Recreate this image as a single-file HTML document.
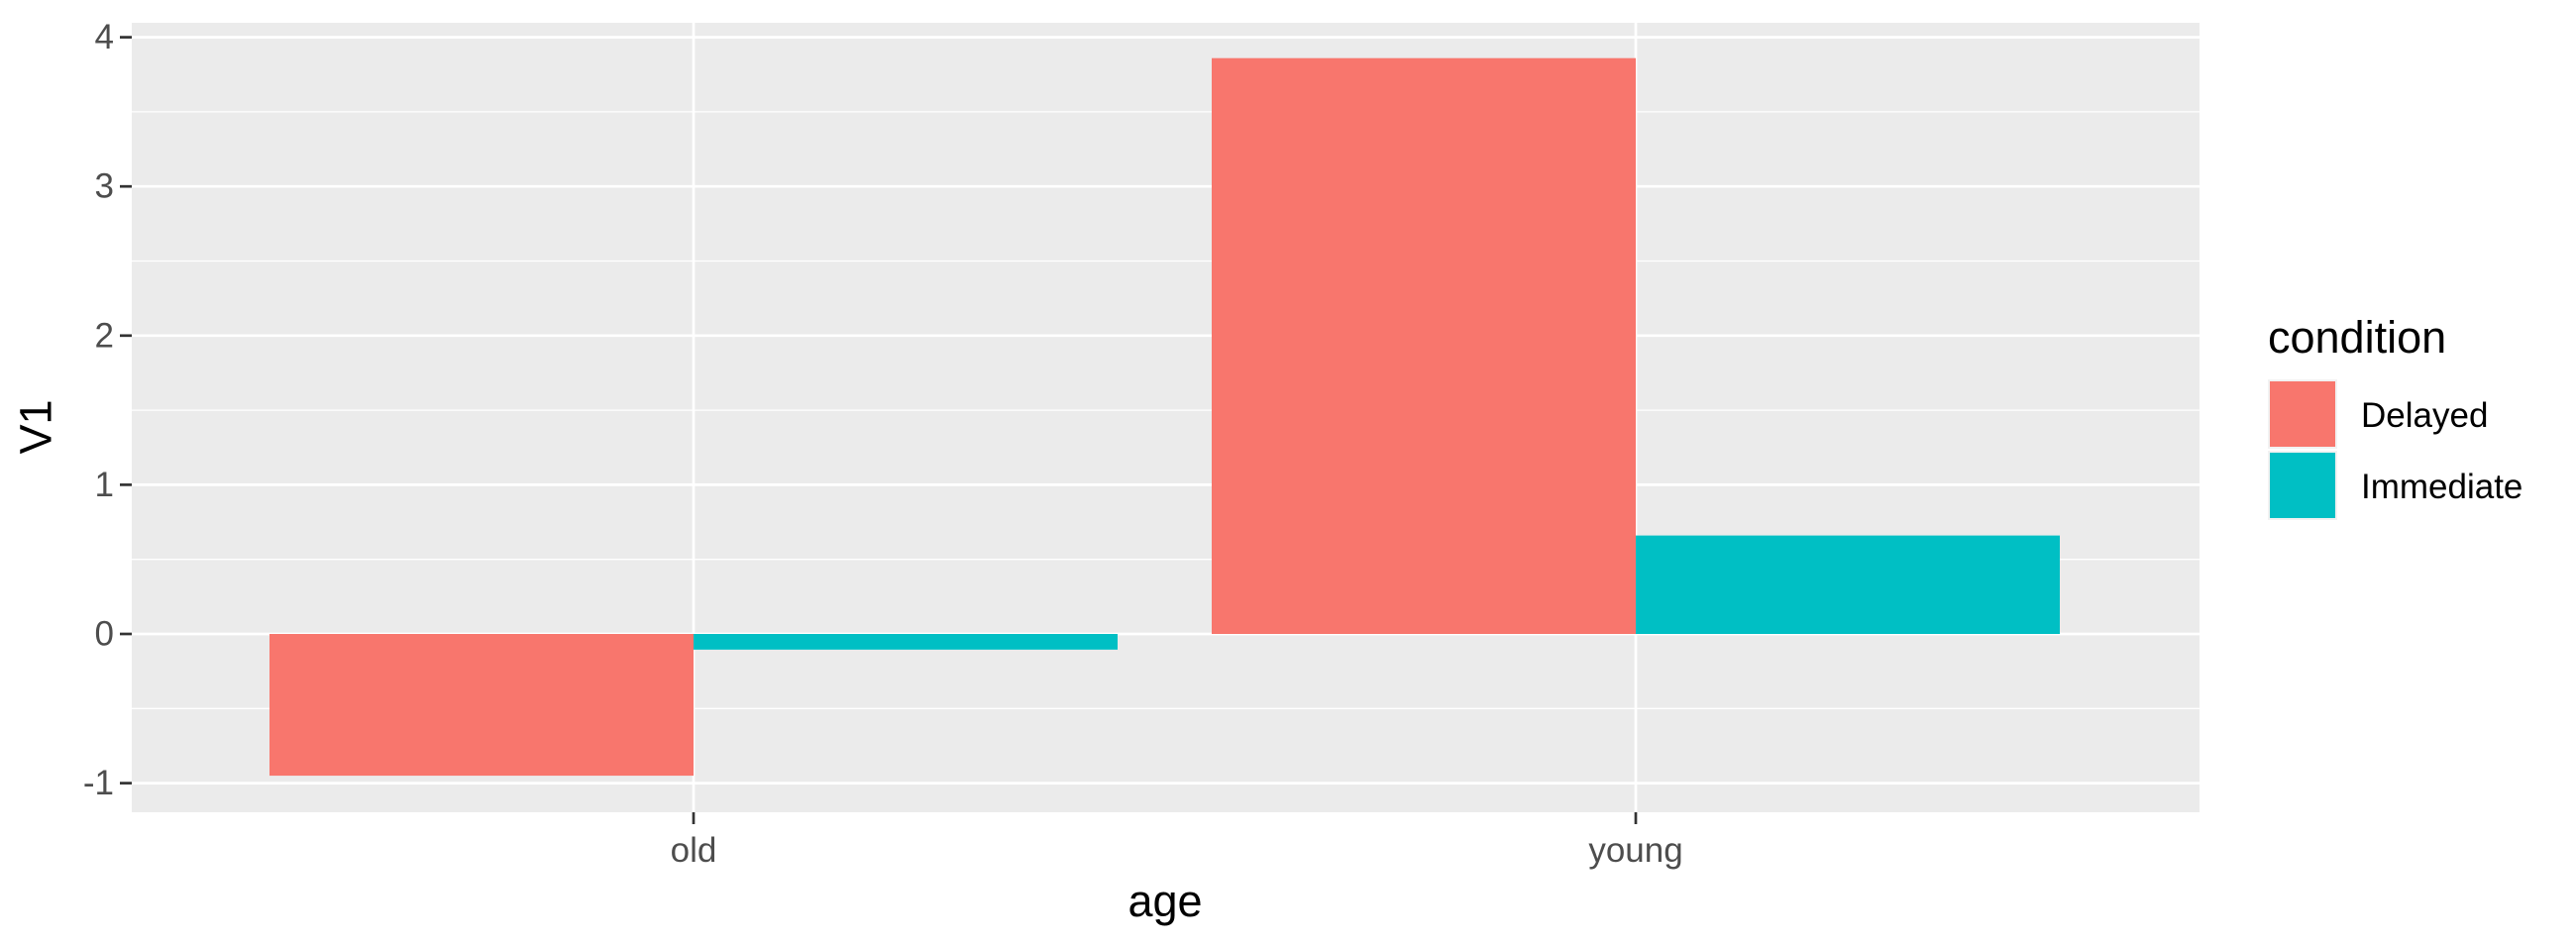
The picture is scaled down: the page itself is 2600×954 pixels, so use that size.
<!DOCTYPE html>
<html><head><meta charset="utf-8"><style>
html,body{margin:0;padding:0;background:#fff;}
svg{display:block;font-family:"Liberation Sans",Arial,sans-serif;}
</style></head><body>
<svg id="chart" width="2600" height="954" viewBox="0 0 2600 954">
<rect x="133" y="23" width="2087" height="797" fill="#ebebeb"/>
<g id="grid"></g><g id="bars"></g><g id="axes"></g>
<text x="36" y="431" transform="rotate(-90 36 431)" text-anchor="middle" dominant-baseline="central" font-size="45" fill="#000">V1</text>
<text x="1176" y="925" text-anchor="middle" font-size="45" fill="#000">age</text>
<g>
<text x="2289" y="356" font-size="45" fill="#000">condition</text>
<g>
<rect x="2290" y="384" width="68" height="68" fill="#f8766d" stroke="#f2f2f2" stroke-width="2"/>
<text x="2383" y="431" font-size="35" fill="#000">Delayed</text></g>
<g>
<rect x="2290" y="456" width="68" height="68" fill="#00bfc4" stroke="#f2f2f2" stroke-width="2"/>
<text x="2383" y="503" font-size="35" fill="#000">Immediate</text></g>
</g>
</svg>
<script>
const categories = ["old", "young"];
const seriesNames = ["Delayed", "Immediate"];
const delayed = [-0.95, 3.86];
const immediate = [-0.105, 0.66];
const yTicks = [-1, 0, 1, 2, 3, 4];
const yTickLabels = ["-1", "0", "1", "2", "3", "4"];
const colors = ["#f8766d", "#00bfc4"];

const NS = "http://www.w3.org/2000/svg";
const pL = 133, pR = 2220, pT = 23, pB = 820;
function y(v){ return 640 - v * 150.6; }
function x(i){ return 700 + i * 951; }
const bw = 428;
function mk(tag, attrs, parent){ const e=document.createElementNS(NS,tag); for(const k in attrs) e.setAttribute(k,attrs[k]); parent.appendChild(e); return e; }
const grid=document.getElementById('grid'), bars=document.getElementById('bars'), axes=document.getElementById('axes');
for(let i=0;i<yTicks.length-1;i++){
  const m=(yTicks[i]+yTicks[i+1])/2;
  const l=mk('line',{x1:pL,x2:pR,y1:y(m),y2:y(m),stroke:'#fff','stroke-width':1.3},grid);
  
  
}
yTicks.forEach((t,i)=>{
  const l=mk('line',{x1:pL,x2:pR,y1:y(t),y2:y(t),stroke:'#fff','stroke-width':2.7},grid);
  
  
  const tk=mk('line',{x1:pL-12,x2:pL,y1:y(t),y2:y(t),stroke:'#333','stroke-width':2.7},axes);
  
  
  const tx=mk('text',{x:pL-18,y:y(t),'text-anchor':'end','dominant-baseline':'central','font-size':35,fill:'#4d4d4d'},axes);
  tx.textContent=yTickLabels[i];
  
  
});
categories.forEach((c,i)=>{
  const l=mk('line',{x1:x(i),x2:x(i),y1:pT,y2:pB,stroke:'#fff','stroke-width':2.7},grid);
  
  
  const tk=mk('line',{x1:x(i),x2:x(i),y1:pB,y2:pB+12,stroke:'#333','stroke-width':2.7},axes);
  
  
  const tx=mk('text',{x:x(i),y:pB+50,'text-anchor':'middle','font-size':35,fill:'#4d4d4d'},axes);
  tx.textContent=c;
  
  
  [delayed,immediate].forEach((s,j)=>{
    const v=s[i], x0=x(i)-bw+j*bw;
    const r=mk('rect',{x:x0,y:Math.min(y(v),y(0)),width:bw,height:Math.abs(y(v)-y(0)),fill:colors[j]},bars);
    
    
  });
});
</script>
</body></html>
